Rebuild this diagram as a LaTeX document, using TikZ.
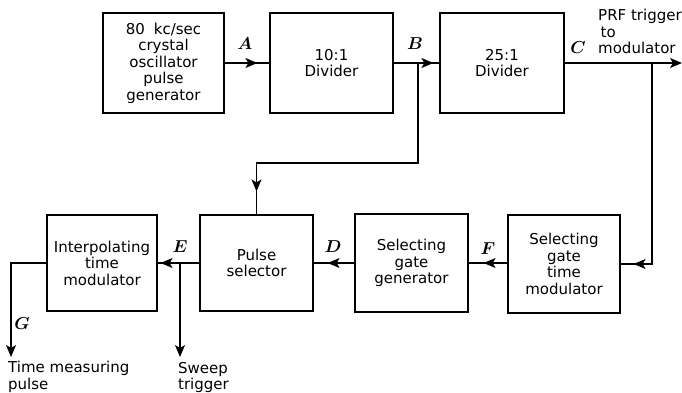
\documentclass[tikz,border=0pt]{standalone}
\usepackage{fontspec}
\setmainfont{DejaVu Sans}
\usetikzlibrary{arrows.meta,decorations.markings}
\tikzset{
  block/.style={draw, line width=1.2pt, align=center, minimum width=113pt, minimum height=98pt},
  wire/.style={line width=1.1pt},
  flow/.style={wire, postaction={decorate},
    decoration={markings, mark=at position #1 with {\arrow{Stealth[length=12pt,width=10pt,inset=3pt]}}}},
  outflow/.style={wire, -{Stealth[length=12pt,width=10pt,inset=3pt]}},
  tag/.style={font=\fontsize{17}{17}\selectfont\boldmath},
  note/.style={anchor=north west, align=left, inner sep=0pt}
}
\begin{document}
\begin{tikzpicture}[x=1pt, y=-1pt, font=\fontsize{15}{16.5}\selectfont]
\useasboundingbox (0,0) rectangle (682,392);
\node[block, minimum width=121pt, minimum height=100pt] (osc) at (163.5,63) {80\hspace{.6em}kc/sec\\crystal\\oscillator\\pulse\\generator};
\node[block, minimum width=123pt, minimum height=100pt] (div10) at (331.5,63) {10:1\\Divider};
\node[block, minimum width=124pt, minimum height=100pt] (div25) at (502,63) {25:1\\Divider};
\node[block, minimum width=110pt, minimum height=96pt] (interp) at (102,263) {Interpolating\\time\\modulator};
\node[block, minimum height=96pt] (pulse) at (256.5,263) {Pulse\\selector};
\node[block] (gategen) at (411.5,263) {Selecting\\gate\\generator};
\node[block, minimum width=112pt] (gatetm) at (564,264) {Selecting\\gate\\time\\modulator};

\coordinate (bj) at (418,63);
\coordinate (bturn) at (418,163);
\coordinate (cj) at (652,63);
\coordinate (cout) at (682,63);
\coordinate (ej) at (180,263);
\coordinate (sweep) at (180,357);
\coordinate (gturn) at (11,263);
\coordinate (gout) at (11,357);

\draw[flow=-12pt] (osc) -- (div10);
\draw[flow=-6pt] (div10) -- (div25);
\draw[outflow] (div25) -- (cout);
\draw[flow=-23pt] (bj) -- (bturn) -| (pulse.north);
\draw[flow=-13pt] (cj) |- (gatetm.east);
\draw[flow=-15pt] (gatetm.west |- gategen) -- (gategen.east);
\draw[flow=-14pt] (gategen) -- (pulse);
\draw[flow=-3pt] (pulse) -- (interp);
\draw[outflow] (ej) -- (sweep);
\draw[outflow] (interp.west) -- (gturn) -- (gout);

\node[tag] (la) at (245,44) {$A$};
\node[tag] (lb) at (415,44) {$B$};
\node[tag] (lc) at (578,48) {$C$};
\node[tag] (ld) at (333,247) {$D$};
\node[tag] (le) at (180,247) {$E$};
\node[tag] (lf) at (488,249) {$F$};
\node[tag] (lg) at (22,324) {$G$};

\node[note] (prf) at (598,9) {PRF trigger\\\,to\\modulator};
\node[note] (tmp) at (8,361) {Time measuring\\pulse};
\node[note] (swt) at (178,362) {Sweep\\trigger};
\end{tikzpicture}
\end{document}
